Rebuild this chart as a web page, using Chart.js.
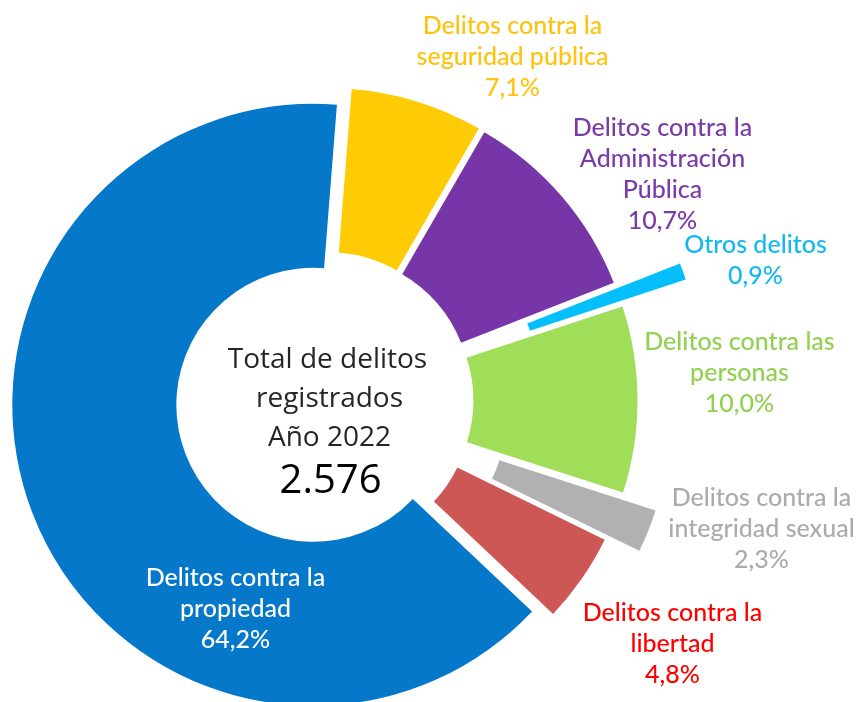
<!DOCTYPE html>
<html>
<head>
<meta charset="utf-8">
<script src="https://cdn.jsdelivr.net/npm/chart.js@4.4.1/dist/chart.umd.min.js"></script>
<style>
  body { margin: 0; background: #fff; }
  #wrap { width: 862px; height: 702px; }
</style>
</head>
<body>
<div id="wrap"><canvas id="myChart" width="862" height="702"></canvas></div>
<script>
// data (share of total, %)
const categories = [
  'Delitos contra la seguridad pública',
  'Delitos contra la Administración Pública',
  'Otros delitos',
  'Delitos contra las personas',
  'Delitos contra la integridad sexual',
  'Delitos contra la libertad',
  'Delitos contra la propiedad'
];
const shares = [7.1, 10.7, 0.9, 10.0, 2.3, 4.8, 64.2];
const labelLines = [
  ['Delitos contra la', 'seguridad pública'],
  ['Delitos contra la', 'Administración', 'Pública'],
  ['Otros delitos'],
  ['Delitos contra las', 'personas'],
  ['Delitos contra la', 'integridad sexual'],
  ['Delitos contra la', 'libertad'],
  ['Delitos contra la', 'propiedad']
];
const totalDelitos = 2576;
const year = 2022;

// styling
const sliceColors = ['#FFCB05', '#7736A8', '#04BFFB', '#A0DD59', '#B1B1B1', '#CC5755', '#0678CA'];
const textColors = ['#FFC20E', '#7A3BA8', '#12B8F0', '#92D050', '#ABABAB', '#FF0000', '#FFFFFF'];
const explode = [12, 12, 80, 12, 48, 12, 12];
// label anchor (centre x, first baseline) relative to the doughnut centre
const labelPos = [
  [188, -367], [338, -265], [431, -148], [415, -51], [437, 105], [348, 220], [-89, 185]
];
const FONT = 'Lato, "Open Sans", sans-serif';
const CENTER_FONT = '"Open Sans", Lato, sans-serif';

function fmtPct(v) { return v.toFixed(1).replace('.', ',') + '%'; }
function fmtInt(v) { return String(v).replace(/\B(?=(\d{3})+(?!\d))/g, '.'); }

// draw each arc pushed out along its mid angle (pie "explosion")
const explodePlugin = {
  id: 'explode',
  beforeDatasetDraw(chart, args) {
    const ctx = chart.ctx;
    args.meta.data.forEach((arc, i) => {
      const mid = (arc.startAngle + arc.endAngle) / 2;
      ctx.save();
      ctx.translate(Math.cos(mid) * explode[i], Math.sin(mid) * explode[i]);
      arc.draw(ctx);
      ctx.restore();
    });
    return false;
  }
};

const labelPlugin = {
  id: 'labels',
  afterDatasetsDraw(chart) {
    const ctx = chart.ctx;
    const arc0 = chart.getDatasetMeta(0).data[0];
    const cx = arc0.x, cy = arc0.y;
    ctx.save();
    ctx.textAlign = 'center';
    ctx.textBaseline = 'alphabetic';
    ctx.font = '500 25px ' + FONT;
    labelLines.forEach((lines, i) => {
      const all = lines.concat([fmtPct(shares[i])]);
      ctx.fillStyle = textColors[i];
      all.forEach((t, k) => {
        ctx.fillText(t, cx + labelPos[i][0], cy + labelPos[i][1] + k * 31);
      });
    });
    // centre text
    ctx.fillStyle = '#262626';
    ctx.font = '28px ' + CENTER_FONT;
    ctx.fillText('Total de delitos', cx + 3, cy - 33);
    ctx.fillText('registrados', cx + 5, cy + 6);
    ctx.fillText('Año ' + year, cx + 5, cy + 45);
    ctx.fillStyle = '#000';
    ctx.font = '40px ' + CENTER_FONT;
    ctx.fillText(fmtInt(totalDelitos), cx + 6, cy + 92);
    ctx.restore();
  }
};

new Chart(document.getElementById('myChart'), {
  type: 'doughnut',
  data: {
    labels: categories,
    datasets: [{
      data: shares,
      backgroundColor: sliceColors,
      borderWidth: 0
    }]
  },
  options: {
    responsive: false,
    animation: false,
    rotation: 4.5,
    radius: 301,
    cutout: '45.5%',
    layout: { padding: { left: 0, right: 213, top: 99, bottom: 0 } },
    plugins: {
      legend: { display: false },
      tooltip: { enabled: false }
    }
  },
  plugins: [explodePlugin, labelPlugin]
});
</script>
</body>
</html>
